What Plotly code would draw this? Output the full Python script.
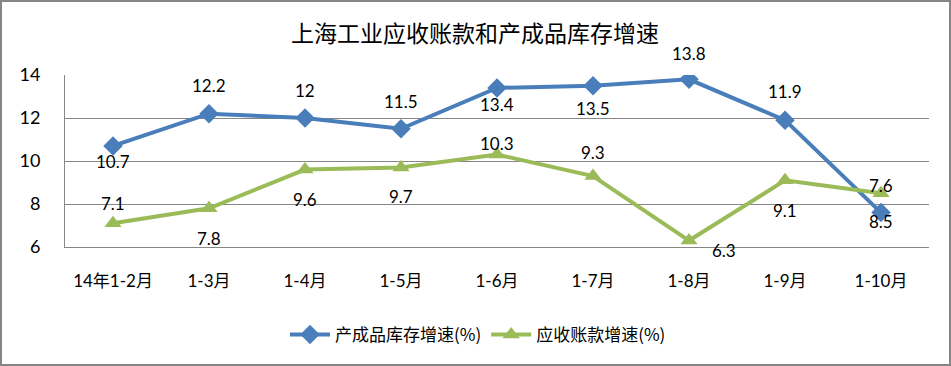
import plotly.graph_objects as go

categories = ["14年1-2月", "1-3月", "1-4月", "1-5月", "1-6月", "1-7月", "1-8月", "1-9月", "1-10月"]
inventory = [10.7, 12.2, 12.0, 11.5, 13.4, 13.5, 13.8, 11.9, 7.6]
receivables = [7.1, 7.8, 9.6, 9.7, 10.3, 9.3, 6.3, 9.1, 8.5]
y_ticks = [6, 8, 10, 12, 14]

series_names = ["产成品库存增速(%)", "应收账款增速(%)"]
title_text = "上海工业应收账款和产成品库存增速"

# label pixel offsets (style, not data)
inv_yshift = [-16, 28, 28, 27, -17, -23, 26, 29, 27]
inv_xshift = [0, 0, 0, 0, 0, 0, 0, 0, 0]
rec_yshift = [20, -30, -30, -29, 11, 24, -10, -30, -28]
rec_xshift = [0, 0, 0, 0, 0, 0, 35, 0, 0]

BLUE = "#4a7ebb"
GREEN = "#9bbb59"
GRID = "#868686"
FONT = "Lato, Noto Sans CJK SC, sans-serif"

fig = go.Figure()
fig.add_trace(go.Scatter(
    x=categories, y=inventory, name=series_names[0], mode="lines+markers",
    line=dict(color=BLUE, width=4),
    marker=dict(symbol="diamond", size=15, color=BLUE),
))
fig.add_trace(go.Scatter(
    x=categories, y=receivables, name=series_names[1], mode="lines+markers",
    line=dict(color=GREEN, width=4),
    marker=dict(symbol="triangle-up", size=15, color=GREEN),
))

W, H = 951, 366
ml, mr, mt, mb = 65, 22, 75, 119
pw, ph = W - ml - mr, H - mt - mb
def px(x):
    return (x - ml) / pw
def py(y):
    return (H - mb - y) / ph

annotations = []
for vals, xs, ys in [(inventory, inv_xshift, inv_yshift), (receivables, rec_xshift, rec_yshift)]:
    for c, v, dx, dy in zip(categories, vals, xs, ys):
        annotations.append(dict(x=c, y=v, text=f"{v:g}", showarrow=False,
                                xshift=dx, yshift=dy,
                                font=dict(family=FONT, size=17, color="#000000")))

annotations.append(dict(x=px(475), xref="paper", y=py(32), yref="paper",
                        xanchor="center", yanchor="middle",
                        text=title_text, showarrow=False,
                        font=dict(family="Noto Sans CJK SC", size=23, color="#000000")))

fig.update_layout(
    width=W, height=H,
    margin=dict(l=ml, r=mr, t=mt, b=mb),
    paper_bgcolor="white", plot_bgcolor="white",
    font=dict(family=FONT, size=16, color="#000000"),
    showlegend=True,
    legend=dict(orientation="h", x=px(478), xanchor="center", y=py(335), yanchor="middle",
                font=dict(family="Noto Sans CJK SC", size=17), itemwidth=40,
                tracegroupgap=0),
    annotations=annotations,
    shapes=[dict(type="rect", xref="paper", yref="paper",
                 x0=px(1), x1=px(950), y0=py(365), y1=py(1),
                 line=dict(color=GRID, width=2), fillcolor="rgba(0,0,0,0)")],
)
fig.update_xaxes(type="category", range=[-0.5, 8.5], showgrid=False,
                 showline=True, linecolor=GRID, linewidth=1,
                 ticks="", ticklabelstandoff=19,
                 tickfont=dict(family=FONT, size=17))
fig.update_yaxes(range=[6, 14], tickvals=y_ticks, showgrid=True, gridcolor=GRID,
                 gridwidth=1, zeroline=False, showline=True, linecolor=GRID, linewidth=1,
                 ticks="", ticklabelstandoff=20,
                 tickfont=dict(family=FONT, size=18))

fig.write_html("out.html", config={"displayModeBar": False},
               post_script="document.body.style.margin='0';document.body.style.overflow='hidden';")
